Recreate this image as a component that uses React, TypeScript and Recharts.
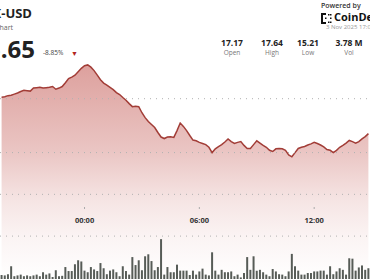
import React from 'react';
import {
  ComposedChart,
  Area,
  Bar,
  XAxis,
  YAxis,
  ReferenceLine,
} from 'recharts';

// 10-minute candles, 19:40 (prev day) to 14:50
const START_MINUTES = 19 * 60 + 40;
const TIMES: string[] = Array.from({ length: 116 }, (_, i) => {
  const m = (START_MINUTES + i * 10) % 1440;
  const hh = String(Math.floor(m / 60)).padStart(2, '0');
  const mm = String(m % 60).padStart(2, '0');
  return `${hh}:${mm}`;
});

const PRICES = [
  16.79, 16.8, 16.83, 16.84, 16.87, 16.9, 16.94, 16.97, 16.96, 16.95,
  17.03, 17.04, 17.05, 17.03, 17.04, 17.05, 17.07, 17.0, 17.03, 17.07,
  17.17, 17.28, 17.32, 17.37, 17.46, 17.55, 17.62, 17.64, 17.58, 17.49,
  17.37, 17.25, 17.16, 17.11, 17.05, 16.99, 16.91, 16.86, 16.78, 16.71,
  16.62, 16.54, 16.55, 16.54, 16.38, 16.25, 16.15, 16.07, 15.99, 15.86,
  15.74, 15.7, 15.74, 15.75, 15.73, 15.91, 16.11, 16.02, 15.91, 15.78,
  15.66, 15.64, 15.6, 15.57, 15.54, 15.47, 15.33, 15.43, 15.49, 15.54,
  15.61, 15.69, 15.62, 15.57, 15.6, 15.62, 15.52, 15.44, 15.44, 15.54,
  15.64, 15.58, 15.52, 15.47, 15.39, 15.36, 15.43, 15.44, 15.43, 15.39,
  15.27, 15.22, 15.33, 15.44, 15.47, 15.49, 15.53, 15.56, 15.6, 15.57,
  15.53, 15.48, 15.41, 15.39, 15.33, 15.39, 15.47, 15.52, 15.58, 15.65,
  15.62, 15.58, 15.62, 15.69, 15.75, 15.83,
];

// volume per candle, thousands
const VOLUMES = [
  10, 9, 12, 32, 7, 9, 11, 7, 9, 7,
  9, 11, 7, 17, 11, 14, 5, 22, 7, 8,
  30, 20, 20, 37, 47, 44, 21, 17, 30, 24,
  20, 40, 27, 12, 21, 24, 17, 7, 32, 20,
  11, 55, 35, 47, 22, 57, 62, 45, 22, 30,
  100, 11, 30, 17, 17, 36, 21, 21, 21, 10,
  21, 11, 19, 26, 11, 9, 67, 21, 11, 23,
  17, 17, 19, 7, 11, 4, 15, 55, 23, 57,
  21, 23, 17, 11, 7, 25, 19, 12, 11, 7,
  19, 63, 32, 21, 11, 11, 15, 15, 19, 19,
  21, 21, 11, 32, 12, 19, 27, 23, 11, 52,
  51, 21, 29, 34, 23, 27,
];

const TIME_TICKS = ['00:00', '06:00', '12:00'];
const GRID_PRICES = [16.75, 15.33, 14.23, 13.13];

const STATS = [
  { value: '17.17', label: 'Open', center: 232 },
  { value: '17.64', label: 'High', center: 272 },
  { value: '15.21', label: 'Low', center: 308 },
  { value: '3.78 M', label: 'Vol', center: 349 },
];

const chartData = TIMES.map((time, i) => ({
  time,
  price: PRICES[i],
  volume: VOLUMES[i],
}));

const FONT = '"Open Sans", sans-serif';

// axis sits at the bottom edge; labels are drawn up inside the plot
const TimeTick = (props: any) => {
  const { x, y, payload } = props;
  return (
    <g>
      <line x1={x} x2={x} y1={y - 72} y2={y - 70} stroke="#aaa" strokeWidth={1} />
      <text
        x={x}
        y={y - 56}
        textAnchor="middle"
        fontSize={7.5}
        fontWeight={700}
        fill="#333"
        fontFamily={FONT}
      >
        {payload.value}
      </text>
    </g>
  );
};

const abs = (style: React.CSSProperties): React.CSSProperties => ({
  position: 'absolute',
  whiteSpace: 'nowrap',
  fontFamily: FONT,
  lineHeight: 1,
  ...style,
});

export default function App() {
  return (
    <div
      style={{
        position: 'absolute',
        left: 0,
        top: 0,
        width: 370,
        height: 280,
        overflow: 'hidden',
        background: '#fff',
      }}
    >
      <ComposedChart
        width={370}
        height={280}
        data={chartData}
        margin={{ top: 0, right: 0, bottom: 0, left: 0 }}
        barCategoryGap="18%"
      >
        <defs>
          <linearGradient id="priceFill" gradientUnits="userSpaceOnUse" x1="0" y1="65" x2="0" y2="280">
            <stop offset="0" stopColor="#c0504a" stopOpacity={0.9} />
            <stop offset="0.4" stopColor="#c0504a" stopOpacity={0.55} />
            <stop offset="0.63" stopColor="#c0504a" stopOpacity={0.25} />
            <stop offset="0.81" stopColor="#c0504a" stopOpacity={0.1} />
            <stop offset="1" stopColor="#c0504a" stopOpacity={0} />
          </linearGradient>
        </defs>
        <XAxis
          dataKey="time"
          height={1}
          ticks={TIME_TICKS}
          interval={0}
          axisLine={false}
          tickLine={false}
          tickSize={0}
          tickMargin={0}
          tick={<TimeTick />}
        />
        <YAxis yAxisId="price" hide domain={[12, 19.35]} allowDataOverflow />
        <YAxis yAxisId="vol" hide domain={[0, 700]} allowDataOverflow />
        {GRID_PRICES.map((p) => (
          <ReferenceLine
            key={p}
            yAxisId="price"
            y={p}
            stroke="#b0b0b0"
            strokeDasharray="1 5"
          />
        ))}
        <Area
          yAxisId="price"
          type="linear"
          dataKey="price"
          stroke="#a23d37"
          strokeWidth={1.5}
          fill="url(#priceFill)"
          dot={false}
          activeDot={false}
          isAnimationActive={false}
        />
        <Bar
          yAxisId="vol"
          dataKey="volume"
          fill="#575c57"
          isAnimationActive={false}
        />
      </ComposedChart>

      {/* header, left */}
      <div style={abs({ right: 338, top: 7, fontSize: 13, fontWeight: 700, color: '#222' })}>
        LINK-USD
      </div>
      <div style={abs({ right: 357, top: 24, fontSize: 7, color: '#666' })}>
        Price Chart
      </div>
      <div style={abs({ right: 335, top: 37, fontSize: 24, fontWeight: 700, color: '#222' })}>
        15.65
      </div>
      <div style={abs({ left: 43, top: 50, fontSize: 6.5, color: '#444' })}>
        -8.85%
      </div>
      <div style={abs({ left: 71, top: 50, fontSize: 7, color: '#b3261e' })}>▼</div>

      {/* header, right */}
      <div style={abs({ left: 321, top: 2, fontSize: 7, fontWeight: 600, color: '#333' })}>
        Powered by
      </div>
      <svg style={{ position: 'absolute', left: 321, top: 13 }} width={11} height={11}>
        <path d="M5 1H1V10H5" fill="none" stroke="#111" strokeWidth={2} />
        <rect x={7} y={1} width={1.5} height={1.5} fill="#111" />
        <rect x={9} y={1} width={1.5} height={1.5} fill="#111" />
        <rect x={9} y={4.5} width={1.5} height={1.5} fill="#111" />
        <rect x={7} y={8.5} width={1.5} height={1.5} fill="#111" />
        <rect x={9} y={8.5} width={1.5} height={1.5} fill="#111" />
        <rect x={4} y={4.5} width={1.5} height={1.5} fill="#111" />
      </svg>
      <div style={abs({ left: 334, top: 11, fontSize: 11, fontWeight: 700, color: '#111' })}>
        CoinDesk
      </div>
      <div style={abs({ left: 326, top: 24, fontSize: 6, color: '#999' })}>
        3 Nov 2025 17:00
      </div>

      {STATS.map((s) => (
        <React.Fragment key={s.label}>
          <div
            style={abs({
              left: s.center - 30,
              width: 60,
              textAlign: 'center',
              top: 39,
              fontSize: 8.5,
              fontWeight: 700,
              color: '#222',
            })}
          >
            {s.value}
          </div>
          <div
            style={abs({
              left: s.center - 30,
              width: 60,
              textAlign: 'center',
              top: 50,
              fontSize: 6.5,
              color: '#777',
            })}
          >
            {s.label}
          </div>
        </React.Fragment>
      ))}
    </div>
  );
}
